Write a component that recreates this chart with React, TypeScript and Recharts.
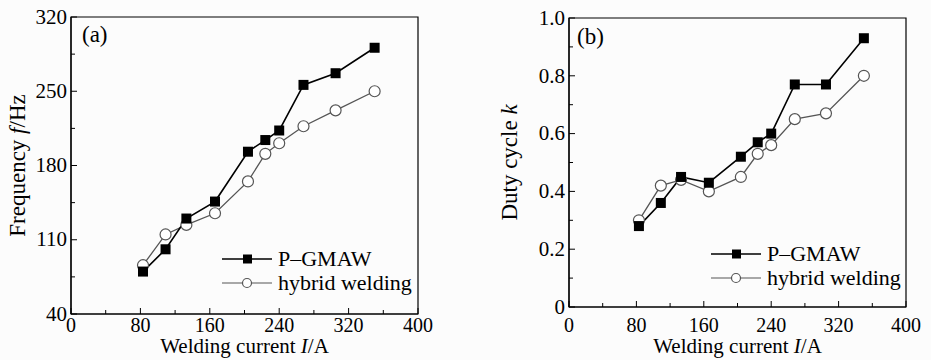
import React from 'react';
import { LineChart, Line, XAxis, YAxis, ReferenceArea, Label } from 'recharts';

const currents = [83, 109, 133, 166, 204, 224, 240, 268, 305, 350];
const freqPGMAW = [80, 101, 130, 146, 193, 204, 213, 256, 267, 291];
const freqHybrid = [86, 115, 124, 135, 165, 191, 201, 217, 232, 250];
const dutyPGMAW = [0.28, 0.36, 0.45, 0.43, 0.52, 0.57, 0.6, 0.77, 0.77, 0.93];
const dutyHybrid = [0.3, 0.42, 0.44, 0.4, 0.45, 0.53, 0.56, 0.65, 0.67, 0.8];

const xTicks = [0, 40, 80, 120, 160, 200, 240, 280, 320, 360, 400];
const freqTicks = [40, 75, 110, 145, 180, 215, 250, 285, 320];
const dutyTicks = [0, 0.1, 0.2, 0.3, 0.4, 0.5, 0.6, 0.7, 0.8, 0.9, 1.0];

const FONT = "'Liberation Serif', 'Times New Roman', serif";
const HYBRID = '#555';

const freqData = currents.map((c, i) => ({ current: c, pgmaw: freqPGMAW[i], hybrid: freqHybrid[i] }));
const dutyData = currents.map((c, i) => ({ current: c, pgmaw: dutyPGMAW[i], hybrid: dutyHybrid[i] }));

const SquareDot = (props: any) => {
  const { cx, cy, key } = props;
  if (cx == null || cy == null) return <g key={key} />;
  return <rect key={key} x={cx - 5} y={cy - 5} width={10} height={10} fill="#000" />;
};

const CircleDot = (props: any) => {
  const { cx, cy, key } = props;
  if (cx == null || cy == null) return <g key={key} />;
  return <circle key={key} cx={cx} cy={cy} r={5.5} fill="#fff" stroke={HYBRID} strokeWidth={1.2} />;
};

// labels of both panels sit at the same height, whatever the axis position
const makeXTick = (labelY: number) => (props: any) => {
  const { x, y, payload } = props;
  const v = payload.value;
  const major = v % 80 === 0;
  return (
    <g>
      <line x1={x} y1={y} x2={x} y2={y - (major ? 6 : 4)} stroke="#000" />
      {major && (
        <text x={x} y={labelY} textAnchor="middle" fontSize={20} fontFamily={FONT} fill="#000">
          {v}
        </text>
      )}
    </g>
  );
};
const XTick = makeXTick(332);

const makeYTick = (isMajor: (v: number) => boolean, fmt: (v: number) => string) => (props: any) => {
  const { x, y, payload } = props;
  const v = payload.value;
  const major = isMajor(v);
  return (
    <g>
      <line x1={x} y1={y} x2={x + (major ? 6 : 4)} y2={y} stroke="#000" />
      {major && (
        <text x={x - 4} y={y} dy="0.32em" textAnchor="end" fontSize={21} fontFamily={FONT} fill="#000">
          {fmt(v)}
        </text>
      )}
    </g>
  );
};

const FreqTick = makeYTick((v) => (v - 40) % 70 === 0, (v) => String(v));
const DutyTick = makeYTick(
  (v) => Math.round(v * 10) % 2 === 0,
  (v) => (v === 0 ? '0' : v.toFixed(1))
);

const xTitle = (props: any) => {
  const { viewBox } = props;
  return (
    <text x={viewBox.x + viewBox.width / 2} y={353} textAnchor="middle" fontSize={21} fontFamily={FONT} fill="#000">
      Welding current <tspan fontStyle="italic">I</tspan>/A
    </text>
  );
};

const yTitle = (bx: number, parts: React.ReactNode) => (props: any) => {
  const { viewBox } = props;
  const cy = viewBox.y + viewBox.height / 2;
  return (
    <text
      x={bx}
      y={cy}
      transform={`rotate(-90 ${bx} ${cy})`}
      textAnchor="middle"
      fontSize={23}
      fontFamily={FONT}
      fill="#000"
    >
      {parts}
    </text>
  );
};

const freqTitle = yTitle(
  25,
  <>
    Frequency <tspan fontStyle="italic">f</tspan>/Hz
  </>
);
const dutyTitle = yTitle(
  57,
  <>
    Duty cycle <tspan fontStyle="italic">k</tspan>
  </>
);

const LegendBox = ({ left, top, gap }: { left: number; top: number; gap: number }) => (
  <div style={{ position: 'absolute', left, top, fontFamily: FONT, fontSize: 22, lineHeight: `${gap}px` }}>
    <div style={{ display: 'flex', alignItems: 'center', height: gap }}>
      <svg width={50} height={gap}>
        <line x1={0} x2={50} y1={gap / 2} y2={gap / 2} stroke="#000" strokeWidth={1.5} />
        <rect x={21} y={gap / 2 - 4.5} width={9} height={9} fill="#000" />
      </svg>
      <span style={{ marginLeft: 6 }}>P–GMAW</span>
    </div>
    <div style={{ display: 'flex', alignItems: 'center', height: gap }}>
      <svg width={50} height={gap}>
        <line x1={0} x2={50} y1={gap / 2} y2={gap / 2} stroke={HYBRID} strokeWidth={1.2} />
        <circle cx={25} cy={gap / 2} r={4.5} fill="#fff" stroke={HYBRID} strokeWidth={1.2} />
      </svg>
      <span style={{ marginLeft: 6 }}>hybrid welding</span>
    </div>
  </div>
);

const PanelLabel = ({ left, top, text }: { left: number; top: number; text: string }) => (
  <div style={{ position: 'absolute', left, top, fontFamily: FONT, fontSize: 23, lineHeight: '24px' }}>{text}</div>
);

export default function App() {
  return (
    <div style={{ position: 'absolute', left: 0, top: 0, width: 931, height: 360, background: '#fcfcfc', overflow: 'hidden' }}>
      <div style={{ position: 'absolute', left: 0, top: 0 }}>
        <LineChart width={440} height={360} data={freqData} margin={{ top: 17, right: 22, bottom: 0, left: 0 }}>
          <XAxis
            type="number"
            dataKey="current"
            domain={[0, 400]}
            ticks={xTicks}
            interval={0}
            tickSize={0}
            tickMargin={0}
            tick={XTick}
            height={46}
            axisLine={{ stroke: '#000', strokeWidth: 1.2 }}
          >
            <Label content={xTitle} />
          </XAxis>
          <YAxis
            type="number"
            domain={[40, 320]}
            ticks={freqTicks}
            interval={0}
            tickSize={0}
            tickMargin={0}
            tick={FreqTick}
            width={71}
            axisLine={{ stroke: '#000', strokeWidth: 1.2 }}
          >
            <Label content={freqTitle} />
          </YAxis>
          <ReferenceArea x1={0} x2={400} y1={40} y2={320} fill="none" stroke="#000" strokeWidth={1.2} />
          <Line
            dataKey="hybrid"
            stroke={HYBRID}
            strokeWidth={1.3}
            dot={CircleDot}
            activeDot={false}
            isAnimationActive={false}
          />
          <Line
            dataKey="pgmaw"
            stroke="#000"
            strokeWidth={1.6}
            dot={SquareDot}
            activeDot={false}
            isAnimationActive={false}
          />
        </LineChart>
      </div>
      <div style={{ position: 'absolute', left: 460, top: 0 }}>
        <LineChart width={471} height={360} data={dutyData} margin={{ top: 18, right: 25, bottom: 0, left: 0 }}>
          <XAxis
            type="number"
            dataKey="current"
            domain={[0, 400]}
            ticks={xTicks}
            interval={0}
            tickSize={0}
            tickMargin={0}
            tick={XTick}
            height={53}
            axisLine={{ stroke: '#000', strokeWidth: 1.2 }}
          >
            <Label content={xTitle} />
          </XAxis>
          <YAxis
            type="number"
            domain={[0, 1]}
            ticks={dutyTicks}
            interval={0}
            tickSize={0}
            tickMargin={0}
            tick={DutyTick}
            width={109}
            axisLine={{ stroke: '#000', strokeWidth: 1.2 }}
          >
            <Label content={dutyTitle} />
          </YAxis>
          <ReferenceArea x1={0} x2={400} y1={0} y2={1} fill="none" stroke="#000" strokeWidth={1.2} />
          <Line
            dataKey="hybrid"
            stroke={HYBRID}
            strokeWidth={1.3}
            dot={CircleDot}
            activeDot={false}
            isAnimationActive={false}
          />
          <Line
            dataKey="pgmaw"
            stroke="#000"
            strokeWidth={1.6}
            dot={SquareDot}
            activeDot={false}
            isAnimationActive={false}
          />
        </LineChart>
      </div>
      <LegendBox left={222} top={247} gap={24} />
      <LegendBox left={711} top={242} gap={24} />
      <PanelLabel left={82} top={23} text="(a)" />
      <PanelLabel left={577} top={25} text="(b)" />
    </div>
  );
}
